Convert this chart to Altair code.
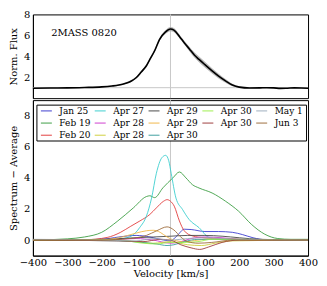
import altair as alt
import pandas as pd

FONT = "DejaVu Serif"

# ---------- top panel: average profile ----------
AVG_V = [-400, -350, -300, -250, -200, -170, -150, -130, -115, -100, -85, -70, -60, -45, -32, -15, 0,
         10, 26, 40, 55, 70, 83, 100, 121, 140, 160, 180, 200, 230, 260, 280, 300, 320, 340, 360, 380, 400]
AVG_F = [0.95, 0.97, 0.98, 1.02, 1.08, 1.16, 1.25, 1.42, 1.62, 1.95, 2.5, 3.1, 3.7, 4.6, 5.6, 6.3, 6.6,
         6.5, 5.9, 5.3, 4.7, 4.1, 3.7, 3.2, 2.6, 2.1, 1.65, 1.25, 1.05, 0.97, 0.98, 1.0, 0.98, 0.93, 0.95, 0.98, 0.97, 0.95]
AVG_S = [0.02, 0.02, 0.02, 0.03, 0.04, 0.05, 0.06, 0.08, 0.1, 0.1, 0.12, 0.12, 0.12, 0.14, 0.15, 0.18, 0.2,
         0.2, 0.18, 0.18, 0.22, 0.25, 0.27, 0.27, 0.25, 0.22, 0.18, 0.12, 0.08, 0.04, 0.03, 0.02, 0.02, 0.02, 0.02, 0.02, 0.02, 0.02]

LABEL_TEXT = ["2MASS 0820"]
LABEL_V = [-347]
LABEL_F = [6.25]

REF_V = [0]
REF_F = [1]

# ---------- bottom panel: spectrum - average ----------
JAN25_V = [-400, -300, -200, -150, -100, -60, -20, 0, 20, 40, 60, 100, 140, 180, 210, 240, 280, 400]
JAN25_Y = [0.0, 0.0, 0.05, 0.2, 0.3, 0.2, 0.0, -0.05, 0.3, 0.7, 0.68, 0.55, 0.55, 0.5, 0.35, 0.15, 0.02, 0.0]

FEB19_V = [-400, -300, -250, -200, -155, -108, -70, -60, -46, -22, 7, 26, 45, 64, 83, 121, 160, 198, 236, 274, 312, 350, 400]
FEB19_Y = [0.0, 0.08, 0.2, 0.5, 1.2, 2.07, 2.8, 2.85, 2.73, 3.36, 4.0, 4.38, 4.0, 3.56, 3.35, 3.03, 2.5, 1.86, 1.0, 0.38, 0.1, 0.05, 0.05]

FEB20_V = [-400, -250, -184, -146, -117, -89, -60, -41, -20, -10, 0, 11, 26, 40, 64, 100, 150, 200, 300, 400]
FEB20_Y = [0.0, 0.02, 0.17, 0.49, 0.87, 1.23, 1.65, 2.07, 2.5, 2.6, 2.5, 2.18, 1.23, 0.6, 0.27, 0.15, 0.1, 0.05, 0.0, 0.0]

APR27_V = [-400, -200, -140, -113, -89, -70, -55, -41, -25, -14, -5, 2, 16, 35, 54, 83, 112, 150, 250, 400]
APR27_Y = [0.0, 0.0, 0.1, 0.27, 0.82, 1.54, 2.7, 4.3, 5.3, 5.45, 5.1, 4.3, 2.7, 1.97, 1.33, 0.8, 0.17, 0.05, 0.0, 0.0]

APR28A_V = [-400, -150, -100, -50, 0, 30, 60, 100, 150, 200, 400]
APR28A_Y = [0.0, 0.05, 0.1, 0.0, -0.2, -0.1, 0.1, 0.2, 0.15, 0.05, 0.0]

APR28B_V = [-400, -200, -100, -50, 0, 50, 90, 130, 180, 400]
APR28B_Y = [0.0, 0.0, -0.1, -0.2, -0.1, -0.3, -0.35, -0.2, -0.05, 0.0]

APR29A_V = [-400, -200, -100, -50, 0, 50, 100, 150, 200, 260, 400]
APR29A_Y = [0.0, 0.05, 0.15, 0.2, 0.25, 0.3, 0.3, 0.25, 0.15, 0.05, 0.0]

APR29B_V = [-400, -200, -150, -100, -70, -50, -30, -10, 10, 40, 80, 120, 180, 400]
APR29B_Y = [0.0, 0.02, 0.15, 0.45, 0.6, 0.63, 0.5, 0.2, 0.0, -0.1, 0.0, 0.1, 0.05, 0.0]

APR30A_V = [-400, -150, -80, -40, -10, 10, 40, 80, 150, 400]
APR30A_Y = [0.0, -0.05, -0.15, -0.25, -0.35, -0.3, -0.1, 0.05, 0.05, 0.0]

APR30B_V = [-400, -150, -80, -40, 0, 40, 80, 120, 200, 400]
APR30B_Y = [0.0, 0.0, -0.2, -0.25, -0.15, -0.15, -0.1, 0.05, 0.05, 0.0]

APR30C_V = [-400, -150, -80, -30, 0, 30, 60, 85, 110, 150, 200, 400]
APR30C_Y = [0.0, -0.05, -0.1, 0.05, 0.0, -0.3, -0.5, -0.6, -0.45, -0.15, 0.0, 0.0]

MAY1_V = [-400, -200, -100, -50, 0, 50, 100, 150, 200, 400]
MAY1_Y = [0.05, 0.0, -0.05, 0.1, 0.0, 0.1, 0.15, 0.1, 0.05, 0.0]

JUN3_V = [-400, -200, -120, -70, -40, -10, 10, 30, 50, 80, 120, 180, 400]
JUN3_Y = [0.0, 0.0, 0.1, 0.3, 0.6, 0.85, 0.65, 0.2, -0.1, -0.2, -0.15, 0.0, 0.0]

# (id, label, v, y, colour, legend column, legend row)
SERIES = [
    ("s01", "Jan 25", JAN25_V, JAN25_Y, "#3333cc", 0, 0),
    ("s02", "Feb 19", FEB19_V, FEB19_Y, "#33993a", 0, 1),
    ("s03", "Feb 20", FEB20_V, FEB20_Y, "#e03333", 0, 2),
    ("s04", "Apr 27", APR27_V, APR27_Y, "#33cccc", 1, 0),
    ("s05", "Apr 28", APR28A_V, APR28A_Y, "#cc33cc", 1, 1),
    ("s06", "Apr 28", APR28B_V, APR28B_Y, "#cccc33", 1, 2),
    ("s07", "Apr 29", APR29A_V, APR29A_Y, "#404040", 2, 0),
    ("s08", "Apr 29", APR29B_V, APR29B_Y, "#f0b440", 2, 1),
    ("s09", "Apr 30", APR30A_V, APR30A_Y, "#339999", 2, 2),
    ("s10", "Apr 30", APR30B_V, APR30B_Y, "#99ee44", 3, 0),
    ("s11", "Apr 30", APR30C_V, APR30C_Y, "#993333", 3, 1),
    ("s12", "May 1", MAY1_V, MAY1_Y, "#99aabb", 4, 0),
    ("s13", "Jun 3", JUN3_V, JUN3_Y, "#996633", 4, 1),
]
IDS = [s[0] for s in SERIES]
COLORS = [s[4] for s in SERIES]

rows = []
for sid, _lab, vs, ys, _c, _col, _row in SERIES:
    for v, y in zip(vs, ys):
        rows.append({"series": sid, "v": v, "y": y})
diff_df = pd.DataFrame(rows)

# legend box layout (pixels inside the lower panel)
LEG_X0, LEG_Y0, LEG_X1, LEG_Y1 = 4, 5, 274.5, 41
COL_PITCH, ROW_PITCH = 54, 12.2
SYM_X, SYM_LEN, TXT_X, ROW_Y = 8, 11, 26.5, 10.8
leg_df = pd.DataFrame({
    "series": IDS,
    "label": [s[1] for s in SERIES],
    "sx": [SYM_X + s[5] * COL_PITCH for s in SERIES],
    "sx2": [SYM_X + SYM_LEN + s[5] * COL_PITCH for s in SERIES],
    "tx": [TXT_X + s[5] * COL_PITCH for s in SERIES],
    "ty": [ROW_Y + s[6] * ROW_PITCH for s in SERIES],
})

avg_df = pd.DataFrame({"v": AVG_V, "f": AVG_F,
                       "lo": [a - s for a, s in zip(AVG_F, AVG_S)],
                       "hi": [a + s for a, s in zip(AVG_F, AVG_S)]})
lab_df = pd.DataFrame({"t": LABEL_TEXT, "v": LABEL_V, "f": LABEL_F})
ref_df = pd.DataFrame({"v": REF_V, "f": REF_F})

W = 276
H_TOP = 84
H_BOT = 156
xs = alt.Scale(domain=[-400, 400], nice=False, zero=False)
cscale = alt.Scale(domain=IDS, range=COLORS)

ytop = alt.Scale(domain=[0, 8], nice=False, zero=False)
x_top = alt.X("v:Q", scale=xs, axis=None)
y_top_axis = alt.Axis(values=[2, 4, 6, 8], title="Norm. Flux")

base_ref = alt.Chart(ref_df)
vline_top = base_ref.mark_rule(color="#c8c8c8", strokeWidth=1).encode(x=x_top)
hline_top = base_ref.mark_rule(color="#c8c8c8", strokeWidth=1).encode(
    y=alt.Y("f:Q", scale=ytop, axis=y_top_axis))
band = alt.Chart(avg_df).mark_area(color="#a0a0a0", opacity=0.75, interpolate="monotone").encode(
    x=x_top, y=alt.Y("lo:Q", scale=ytop, axis=y_top_axis), y2="hi:Q")
avg_line = alt.Chart(avg_df).mark_line(color="black", strokeWidth=1.6, interpolate="monotone").encode(
    x=x_top, y=alt.Y("f:Q", scale=ytop, axis=y_top_axis))
label = alt.Chart(lab_df).mark_text(align="left", baseline="middle", font=FONT, fontSize=10,
                                    color="black").encode(
    x=x_top, y=alt.Y("f:Q", scale=ytop, axis=y_top_axis), text="t:N")

top = alt.layer(vline_top, hline_top, band, avg_line, label).properties(width=W, height=H_TOP)

ybot = alt.Scale(domain=[-1, 9], nice=False, zero=False)
x_bot = alt.X("v:Q", scale=xs, axis=alt.Axis(values=[-400, -300, -200, -100, 0, 100, 200, 300, 400],
                                             title="Velocity [km/s]", ticks=False, labelOverlap=False,
                                             labelFlush=False, labelPadding=2, titlePadding=1))
y_bot_axis = alt.Axis(values=[0, 2, 4, 6, 8], title="Spectrum \u2212 Average")

vline_bot = base_ref.mark_rule(color="#c8c8c8", strokeWidth=1).encode(x=x_bot)
lines = alt.Chart(diff_df).mark_line(strokeWidth=1, opacity=0.85, interpolate="monotone", clip=True).encode(
    x=x_bot,
    y=alt.Y("y:Q", scale=ybot, axis=y_bot_axis),
    color=alt.Color("series:N", scale=cscale, legend=None),
)
leg_box = alt.Chart(ref_df).mark_rect(fill="white", stroke="black", strokeWidth=1).encode(
    x=alt.value(LEG_X0), x2=alt.value(LEG_X1), y=alt.value(LEG_Y0), y2=alt.value(LEG_Y1))
leg_sym = alt.Chart(leg_df).mark_rule(strokeWidth=1.1, opacity=0.85).encode(
    x=alt.X("sx:Q", scale=None), x2="sx2:Q", y=alt.Y("ty:Q", scale=None),
    color=alt.Color("series:N", scale=cscale, legend=None))
leg_txt = alt.Chart(leg_df).mark_text(align="left", baseline="middle", font=FONT, fontSize=9,
                                      color="black").encode(
    x=alt.X("tx:Q", scale=None), y=alt.Y("ty:Q", scale=None), text="label:N")

bottom = alt.layer(vline_bot, lines, leg_box, leg_sym, leg_txt).properties(width=W, height=H_BOT)

chart = alt.vconcat(top, bottom, spacing=0).properties(
    padding={"left": 0, "top": 0, "right": 0, "bottom": 0}
).configure_view(stroke="black", strokeWidth=1).configure_axis(
    labelFont=FONT, titleFont=FONT, labelFontSize=10, titleFontSize=10,
    titleFontWeight="normal", labelColor="black", titleColor="black",
    domainColor="black", grid=False, ticks=False, labelPadding=3, titlePadding=5
)

chart.save("out.html", embed_options={"renderer": "svg", "actions": False})
